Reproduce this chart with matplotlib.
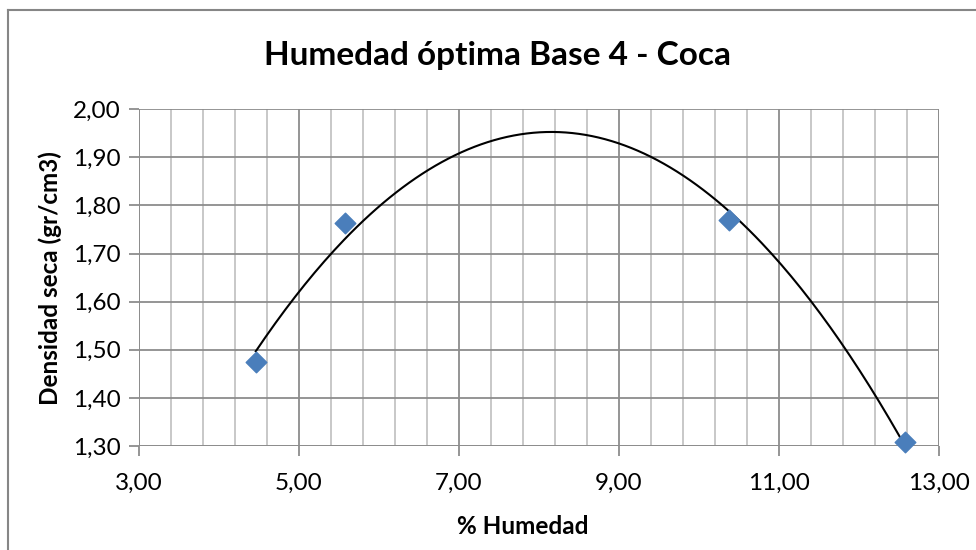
import numpy as np
import matplotlib.pyplot as plt
from matplotlib.ticker import FixedLocator, MultipleLocator, FuncFormatter
from matplotlib.lines import Line2D

plt.rcParams['font.family'] = ['Lato', 'DejaVu Sans']

humedad = [4.46, 5.58, 10.37, 12.58]
densidad = [1.475, 1.763, 1.770, 1.308]

fig = plt.figure(figsize=(9.76, 5.5), dpi=100)
ax = fig.add_axes([139/976, 1-446/550, 800/976, (446-109.3)/550])

# marco del grafico (solo izquierda y arriba visibles)
fig.add_artist(Line2D([7.5/976, 7.5/976], [0, 1-9.5/550], color='#868686', lw=1.5))
fig.add_artist(Line2D([7.5/976, 1], [1-9.5/550, 1-9.5/550], color='#868686', lw=1.5))

ax.set_xlim(3, 13)
ax.set_ylim(1.30, 2.00)
ax.xaxis.set_major_locator(FixedLocator(np.arange(3, 13.01, 2)))
ax.xaxis.set_minor_locator(FixedLocator(np.arange(3, 13.01, 0.4)))
ax.yaxis.set_major_locator(MultipleLocator(0.1))
fmt = FuncFormatter(lambda v, p: f'{v:.2f}'.replace('.', ','))
ax.xaxis.set_major_formatter(fmt)
ax.yaxis.set_major_formatter(fmt)

ax.grid(which='minor', axis='x', color='#c4c4c4', lw=1.3)
ax.grid(which='major', axis='x', color='#8c8c8c', lw=1.3)
ax.grid(which='major', axis='y', color='#8c8c8c', lw=1.3)
ax.set_axisbelow(True)
for s in ax.spines.values():
    s.set_visible(False)
ax.axhline(1.30, color='#8c8c8c', lw=1.3, zorder=1)
ax.axvline(3, color='#8c8c8c', lw=1.3, zorder=1)
ax.axvline(13, color='#8c8c8c', lw=1.3, zorder=1)

ax.tick_params(which='minor', length=0)
ax.tick_params(which='major', length=7, width=1.3, color='#8c8c8c',
               labelsize=17.5, pad=6)
ax.tick_params(axis='x', pad=12)

# linea de tendencia polinomica de orden 2
c = np.polyfit(humedad, densidad, 2)
xs = np.linspace(min(humedad), max(humedad), 200)
ax.plot(xs, np.polyval(c, xs), color='black', lw=1.5, zorder=3)

ax.scatter(humedad, densidad, marker='D', s=110, color='#4a7ebb',
           zorder=4, clip_on=False)

fig.text(498/976, 1-55/550, 'Humedad óptima Base 4 - Coca', fontsize=24,
         fontweight='bold', ha='center', va='center')
ax.set_xlabel('% Humedad', fontsize=17.5, fontweight='bold', labelpad=14)
ax.xaxis.set_label_coords((523-139)/800, -0.205)
ax.set_ylabel('Densidad seca (gr/cm3)', fontsize=17.5, fontweight='bold', labelpad=8)

fig.savefig('out.png', dpi=100)
